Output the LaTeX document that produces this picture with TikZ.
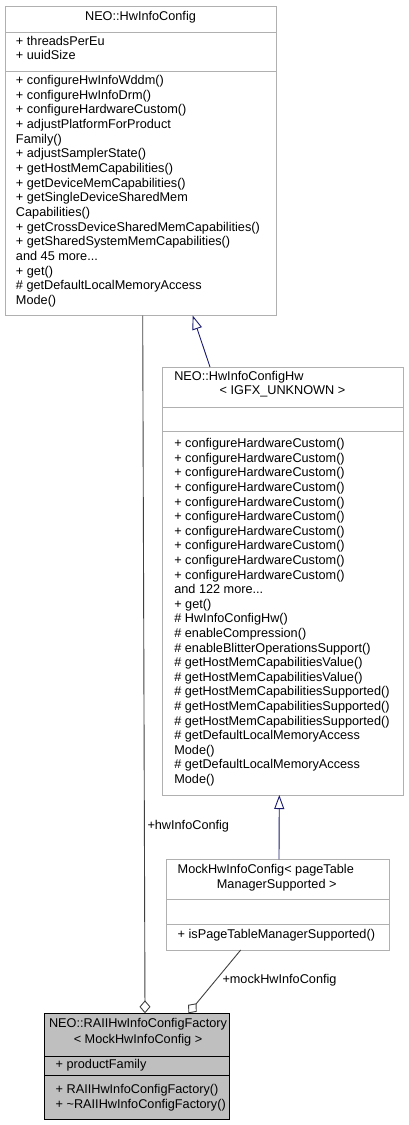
\documentclass[tikz,border=0pt]{standalone}
\usepackage{fontspec}
\setmainfont{Liberation Sans}
\usetikzlibrary{arrows.meta}
\definecolor{boxgray}{HTML}{B0B0B0}
\definecolor{mainfill}{HTML}{BFBFBF}
\definecolor{inhblue}{HTML}{191970}
\definecolor{usegray}{HTML}{404040}
\newcommand{\tdots}{...}
\begin{document}
\begin{tikzpicture}[x=1pt,y=-1pt,
 txt/.style={font=\fontsize{12.7}{14.6}\selectfont, inner sep=0pt, outer sep=0pt, anchor=mid west},
 ctxt/.style={txt, anchor=mid},
 classbox/.style={draw=boxgray, line width=0.9pt, fill=white, inner sep=0pt, outer sep=0pt, anchor=north west},
 mainbox/.style={draw=black, line width=0.9pt, fill=mainfill, inner sep=0pt, outer sep=0pt, anchor=north west},
 sepline/.style={draw=boxgray, line width=0.9pt},
 mainsep/.style={draw=black, line width=0.9pt},
 inherit/.style={draw=inhblue, line width=0.9pt, -{Triangle[open, length=14pt, width=10pt]}},
 usage/.style={draw=usegray, line width=0.9pt, -{Diamond[open, length=13pt, width=11pt]}},
]
\useasboundingbox (0,0) rectangle (409,1125);

% ---- boxes
\node[classbox, minimum width=271pt, minimum height=309.5pt] (b1) at (5,6) {};
\node[classbox, minimum width=241.2pt, minimum height=428pt] (b2) at (162.3,367) {};
\node[classbox, minimum width=223pt, minimum height=90.7pt] (b3) at (166.3,859.3) {};
\node[mainbox, minimum width=185.3pt, minimum height=105.7pt] (b4) at (44,1013.3) {};

% ---- separators
\draw[sepline] (b1.west |- 0,32) -- (b1.east |- 0,32);
\draw[sepline] (b1.west |- 0,71) -- (b1.east |- 0,71);
\draw[sepline] (b2.west |- 0,407.5) -- (b2.east |- 0,407.5);
\draw[sepline] (b2.west |- 0,431.7) -- (b2.east |- 0,431.7);
\draw[sepline] (b3.west |- 0,899.3) -- (b3.east |- 0,899.3);
\draw[sepline] (b3.west |- 0,924.7) -- (b3.east |- 0,924.7);
\draw[mainsep] (b4.west |- 0,1056.7) -- (b4.east |- 0,1056.7);
\draw[mainsep] (b4.west |- 0,1075) -- (b4.east |- 0,1075);

% ---- box 1 text
\node[ctxt] (b1t) at (140.5,18.3) {NEO::HwInfoConfig};
\node[txt] (b1a0) at (16,42.7) {+ threadsPerEu};
\node[txt] (b1a1) at (16,57.3) {+ uuidSize};
\foreach \t [count=\i from 0] in {
 {+ configureHwInfoWddm()},
 {+ configureHwInfoDrm()},
 {+ configureHardwareCustom()},
 {+ adjustPlatformForProduct},
 {Family()},
 {+ adjustSamplerState()},
 {+ getHostMemCapabilities()},
 {+ getDeviceMemCapabilities()},
 {+ getSingleDeviceSharedMem},
 {Capabilities()},
 {+ getCrossDeviceSharedMemCapabilities()},
 {+ getSharedSystemMemCapabilities()},
 {and 45 more\tdots},
 {+ get()},
 {\# getDefaultLocalMemoryAccess},
 {Mode()}}
 \node[txt] (b1m\i) at (16,81.7+\i*14.67) {\t};

% ---- box 2 text
\node[txt] (b2t0) at (174.3,378.3) {NEO::HwInfoConfigHw};
\node[ctxt] (b2t1) at (282.5,392.3) {< IGFX\_UNKNOWN >};
\foreach \t [count=\i from 0] in {
 {+ configureHardwareCustom()},
 {+ configureHardwareCustom()},
 {+ configureHardwareCustom()},
 {+ configureHardwareCustom()},
 {+ configureHardwareCustom()},
 {+ configureHardwareCustom()},
 {+ configureHardwareCustom()},
 {+ configureHardwareCustom()},
 {+ configureHardwareCustom()},
 {+ configureHardwareCustom()},
 {and 122 more\tdots},
 {+ get()},
 {\# HwInfoConfigHw()},
 {\# enableCompression()},
 {\# enableBlitterOperationsSupport()},
 {\# getHostMemCapabilitiesValue()},
 {\# getHostMemCapabilitiesValue()},
 {\# getHostMemCapabilitiesSupported()},
 {\# getHostMemCapabilitiesSupported()},
 {\# getHostMemCapabilitiesSupported()},
 {\# getDefaultLocalMemoryAccess},
 {Mode()},
 {\# getDefaultLocalMemoryAccess},
 {Mode()}}
 \node[txt] (b2m\i) at (174.3,445+\i*14.6) {\t};

% ---- box 3 text
\node[txt] (b3t0) at (177.7,871) {MockHwInfoConfig< pageTable};
\node[ctxt] (b3t1) at (276.7,885.7) {ManagerSupported >};
\node[txt] (b3m0) at (177.7,936) {+ isPageTableManagerSupported()};

% ---- box 4 text
\node[ctxt] (b4t0) at (138,1025) {NEO::RAIIHwInfoConfigFactory};
\node[ctxt] (b4t1) at (138,1040.7) {< MockHwInfoConfig >};
\node[txt] (b4a0) at (55.7,1066) {+ productFamily};
\node[txt] (b4m0) at (55.7,1090.7) {+ RAIIHwInfoConfigFactory()};
\node[txt] (b4m1) at (55.7,1106) {+ \textasciitilde RAIIHwInfoConfigFactory()};

% ---- connectors
\draw[inherit] ([xshift=47.7pt]b2.north west) -- ([xshift=187.7pt]b1.south west);
\draw[inherit] ([xshift=112.7pt]b3.north west) -- ([xshift=117pt]b2.south west);
\draw[usage] ([xshift=137.7pt]b1.south west) -- ([xshift=101pt]b4.north west);
\draw[usage] ([xshift=74.4pt]b3.south west) -- ([xshift=144.3pt]b4.north west);

% ---- edge labels
\node[txt] (l1) at (147.5,826.7) {+hwInfoConfig};
\node[txt] (l2) at (222.5,980.7) {+mockHwInfoConfig};
\end{tikzpicture}
\end{document}
